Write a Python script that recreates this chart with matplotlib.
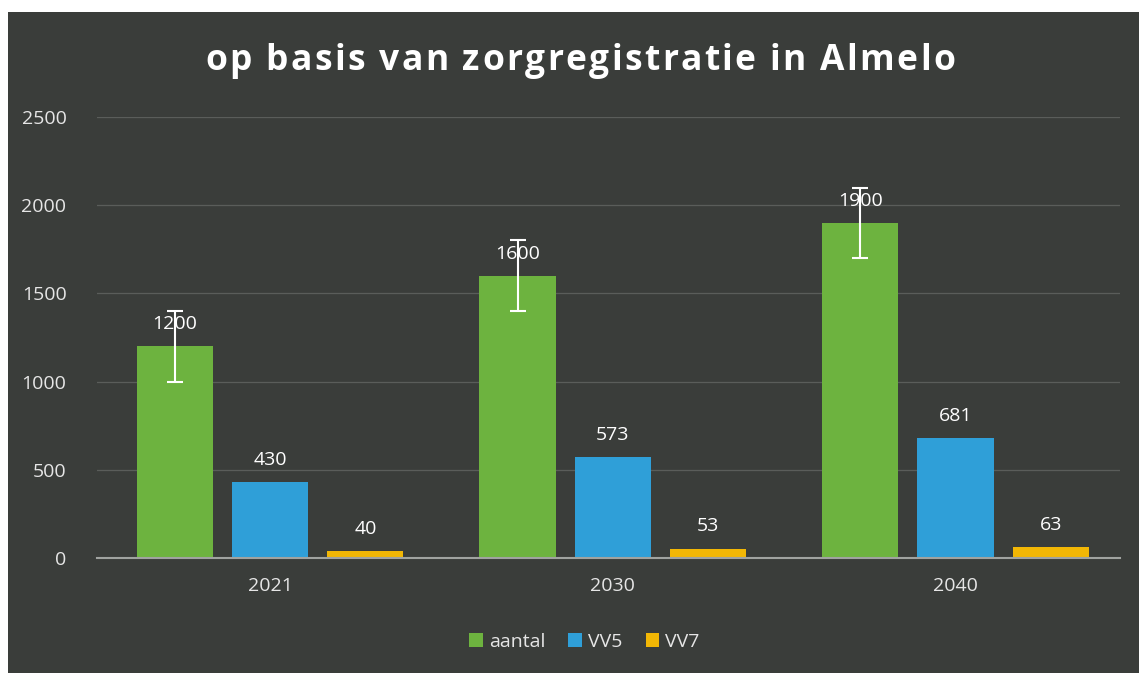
import numpy as np
import matplotlib.pyplot as plt
from matplotlib.patches import Rectangle
from matplotlib.font_manager import FontProperties

# Data.
years = ["2021", "2030", "2040"]
series_names = ["aantal", "VV5", "VV7"]
aantal = [1200, 1600, 1900]
vv5 = [430, 573, 681]
vv7 = [40, 53, 63]
aantal_err = [200, 200, 200]

colors = ["#6db33f", "#2f9fd8", "#f2b705"]
bg = "#3a3d3a"
title = "op basis van zorgregistratie in Almelo"

W, H = 1139, 673
fig = plt.figure(figsize=(W / 100, H / 100), dpi=100)
fig.patch.set_facecolor("white")
# dark chart area (scan has a white border at top and left)
fig.patches.append(Rectangle((8 / W, 0), 1, 1 - 12 / H,
                             transform=fig.transFigure, facecolor=bg,
                             edgecolor="none", zorder=-10))

ax = fig.add_axes([97 / W, 1 - 558 / H, (1120 - 97) / W, (558 - 117) / H])
ax.set_facecolor("none")

x = np.arange(len(years))
width = 0.222
offset = 0.278
all_values = [aantal, vv5, vv7]

for i, (name, vals, col) in enumerate(zip(series_names, all_values, colors)):
    pos = x + (i - 1) * offset
    ax.bar(pos, vals, width, color=col, label=name, zorder=2)
    for p, v in zip(pos, vals):
        ax.text(p, v + 75, str(v), ha="center", va="bottom", color="white",
                fontsize=14, family="Open Sans", zorder=4)

ax.errorbar(x - offset, aantal, yerr=aantal_err, fmt="none", ecolor="white",
            elinewidth=1.5, capsize=6, capthick=1.5, zorder=3)

ax.set_xlim(-0.505, 2.48)
ax.set_ylim(0, 2500)
ax.set_yticks(np.arange(0, 2501, 500))
ax.set_xticks(x)
ax.set_xticklabels(years)
ax.yaxis.grid(True, color="#5a5d5a", linewidth=0.9, zorder=0)
ax.set_axisbelow(True)
for s in ["top", "right", "left"]:
    ax.spines[s].set_visible(False)
ax.spines["bottom"].set_color("#a0a3a0")
ax.spines["bottom"].set_linewidth(1.5)
ax.spines["bottom"].set_zorder(5)
ax.tick_params(axis="both", length=0, colors="#e6e6e6", labelsize=14)
ax.tick_params(axis="y", pad=22)
ax.tick_params(axis="x", pad=14)
for lbl in ax.get_xticklabels() + ax.get_yticklabels():
    lbl.set_family("Open Sans")

# title with letter spacing: place the characters one by one
prop = FontProperties(family="Open Sans", weight="bold", size=25.5)
renderer = fig.canvas.get_renderer()
widths = []
for ch in title:
    w, _, _ = renderer.get_text_width_height_descent(ch if ch != " " else "n n", prop, ismath=False)
    if ch == " ":
        wn, _, _ = renderer.get_text_width_height_descent("nn", prop, ismath=False)
        w = w - wn
    widths.append(w)
x_left, x_right = 205, 955
track = (x_right - x_left - sum(widths)) / (len(title) - 1)
cx = x_left
for ch, w in zip(title, widths):
    if ch != " ":
        fig.text(cx / W, 1 - 70 / H, ch, ha="left", va="baseline",
                 color="white", fontproperties=prop)
    cx += w + track

leg = fig.legend(loc="center", bbox_to_anchor=(0.513, 1 - 642 / H), ncol=3,
                 frameon=False, handlelength=0.7,
                 handleheight=0.7, handletextpad=0.3, columnspacing=1.2,
                 prop={"family": "Open Sans", "size": 14})
for t in leg.get_texts():
    t.set_color("#e6e6e6")

fig.savefig("out.png", dpi=100, facecolor=fig.get_facecolor())
